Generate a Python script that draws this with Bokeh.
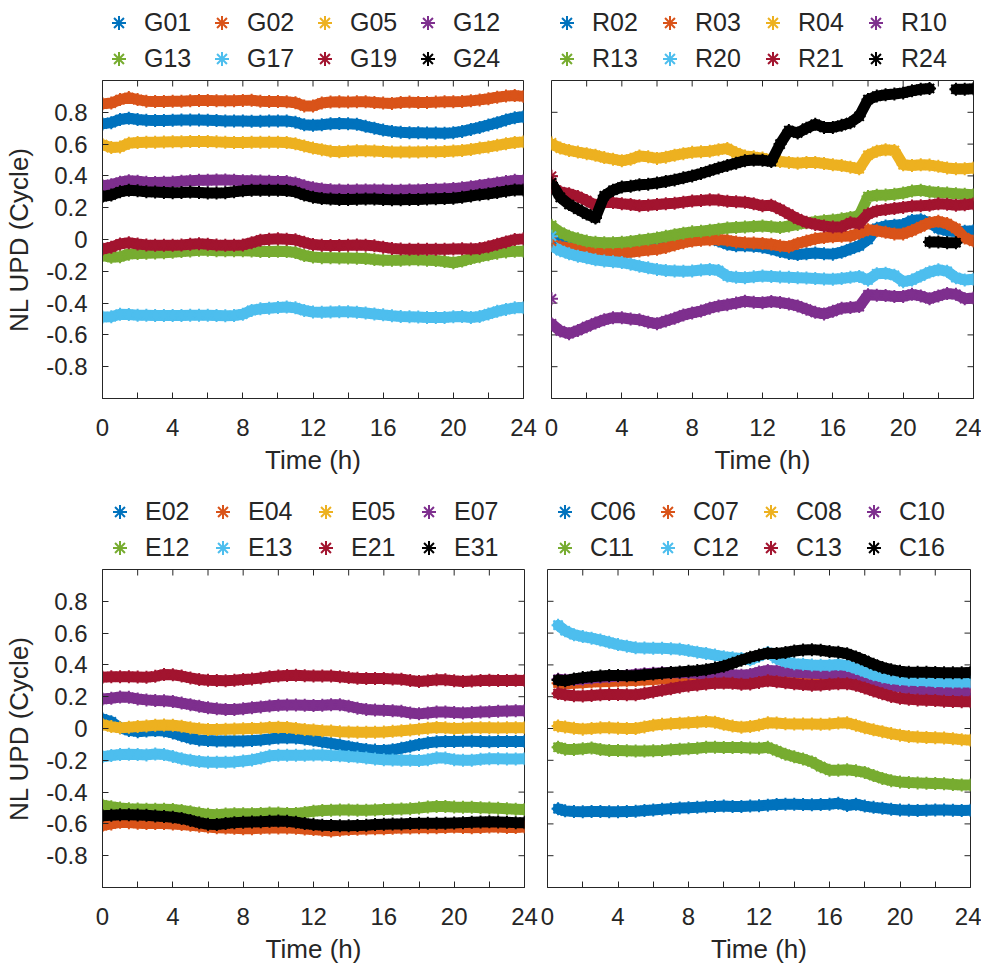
from bokeh.plotting import figure
from bokeh.models import Legend, LegendItem, FixedTicker, Range1d
from bokeh.layouts import column, row
from bokeh.embed import file_html
from bokeh.resources import INLINE

nan = float("nan")
FONT = "Liberation Sans"
TEXT = "#262626"
COLORS = ["#0072BD", "#D95319", "#EDB120", "#7E2F8E", "#77AC30", "#4DBEEE", "#A2142F", "#000000"]

X_TICKS = [0, 4, 8, 12, 16, 20, 24]
X_MINOR = [2, 6, 10, 14, 18, 22]
Y_TICKS = [-0.8, -0.6, -0.4, -0.2, 0.0, 0.2, 0.4, 0.6, 0.8]
Y_LABELS = ["-0.8", "-0.6", "-0.4", "-0.2", "0", "0.2", "0.4", "0.6", "0.8"]
X_LABEL = "Time (h)"
Y_LABEL = "NL UPD (Cycle)"

TIME = [0.0, 0.5, 1.0, 1.5, 2.0, 2.5, 3.0, 3.5, 4.0, 4.5,
        5.0, 5.5, 6.0, 6.5, 7.0, 7.5, 8.0, 8.5, 9.0, 9.5,
        10.0, 10.5, 11.0, 11.5, 12.0, 12.5, 13.0, 13.5, 14.0, 14.5,
        15.0, 15.5, 16.0, 16.5, 17.0, 17.5, 18.0, 18.5, 19.0, 19.5,
        20.0, 20.5, 21.0, 21.5, 22.0, 22.5, 23.0, 23.5, 24.0]
TIME_C = [0.6, 1.0, 1.5, 2.0, 2.5, 3.0, 3.5, 4.0, 4.5, 5.0,
          5.5, 6.0, 6.5, 7.0, 7.5, 8.0, 8.5, 9.0, 9.5, 10.0,
          10.5, 11.0, 11.5, 12.0, 12.5, 13.0, 13.5, 14.0, 14.5, 15.0,
          15.5, 16.0, 16.5, 17.0, 17.5, 18.0, 18.5, 19.0, 19.5, 20.0,
          20.5, 21.0, 21.5, 22.0, 22.5, 23.0, 23.5, 24.0]

# ---------------- G panel ----------------
G_NAMES = ["G01", "G02", "G05", "G12", "G13", "G17", "G19", "G24"]
G01 = [0.727, 0.735, 0.755, 0.763, 0.755, 0.750, 0.748, 0.748, 0.750, 0.752,
       0.752, 0.752, 0.750, 0.748, 0.746, 0.746, 0.746, 0.744, 0.744, 0.746,
       0.746, 0.745, 0.738, 0.722, 0.718, 0.722, 0.728, 0.730, 0.728, 0.725,
       0.712, 0.700, 0.688, 0.680, 0.675, 0.672, 0.672, 0.670, 0.670, 0.668,
       0.672, 0.680, 0.692, 0.705, 0.720, 0.735, 0.752, 0.766, 0.772]
G02 = [0.853, 0.858, 0.880, 0.893, 0.880, 0.870, 0.868, 0.868, 0.870, 0.870,
       0.872, 0.875, 0.875, 0.873, 0.872, 0.873, 0.875, 0.876, 0.870, 0.868,
       0.868, 0.866, 0.860, 0.840, 0.840, 0.858, 0.865, 0.866, 0.864, 0.866,
       0.866, 0.862, 0.858, 0.856, 0.862, 0.864, 0.862, 0.862, 0.864, 0.866,
       0.866, 0.868, 0.872, 0.878, 0.885, 0.895, 0.902, 0.906, 0.900]
G05 = [0.597, 0.578, 0.582, 0.605, 0.610, 0.612, 0.612, 0.613, 0.614, 0.615,
       0.616, 0.617, 0.616, 0.614, 0.612, 0.610, 0.610, 0.611, 0.612, 0.612,
       0.612, 0.610, 0.602, 0.588, 0.575, 0.565, 0.555, 0.552, 0.555, 0.558,
       0.558, 0.556, 0.554, 0.550, 0.550, 0.550, 0.551, 0.552, 0.552, 0.553,
       0.556, 0.560, 0.566, 0.575, 0.582, 0.592, 0.602, 0.610, 0.614]
G12 = [0.338, 0.345, 0.360, 0.370, 0.366, 0.360, 0.358, 0.360, 0.362, 0.366,
       0.370, 0.372, 0.372, 0.374, 0.375, 0.372, 0.370, 0.370, 0.368, 0.366,
       0.365, 0.364, 0.355, 0.338, 0.326, 0.318, 0.313, 0.311, 0.310, 0.311,
       0.312, 0.312, 0.311, 0.310, 0.310, 0.311, 0.312, 0.314, 0.316, 0.318,
       0.320, 0.325, 0.332, 0.340, 0.348, 0.356, 0.364, 0.372, 0.370]
G13 = [-0.100, -0.112, -0.108, -0.092, -0.088, -0.086, -0.085, -0.083, -0.080, -0.076,
       -0.072, -0.068, -0.068, -0.070, -0.071, -0.071, -0.070, -0.072, -0.076, -0.076,
       -0.074, -0.075, -0.082, -0.100, -0.110, -0.114, -0.115, -0.116, -0.117, -0.118,
       -0.120, -0.126, -0.130, -0.131, -0.130, -0.128, -0.128, -0.130, -0.132, -0.138,
       -0.146, -0.136, -0.120, -0.108, -0.096, -0.086, -0.078, -0.074, -0.074]
G17 = [-0.488, -0.486, -0.470, -0.472, -0.476, -0.476, -0.478, -0.478, -0.478, -0.478,
       -0.476, -0.476, -0.476, -0.478, -0.480, -0.478, -0.470, -0.446, -0.436, -0.432,
       -0.428, -0.424, -0.430, -0.446, -0.456, -0.458, -0.456, -0.454, -0.454, -0.458,
       -0.462, -0.468, -0.474, -0.480, -0.484, -0.486, -0.488, -0.490, -0.490, -0.490,
       -0.486, -0.484, -0.490, -0.484, -0.468, -0.452, -0.440, -0.430, -0.430]
G19 = [-0.060, -0.048, -0.028, -0.020, -0.028, -0.034, -0.036, -0.036, -0.036, -0.034,
       -0.030, -0.026, -0.030, -0.034, -0.036, -0.036, -0.034, -0.020, -0.004, 0.002,
       0.004, 0.002, -0.002, -0.018, -0.032, -0.036, -0.038, -0.038, -0.036, -0.034,
       -0.036, -0.040, -0.048, -0.056, -0.060, -0.062, -0.062, -0.062, -0.062, -0.062,
       -0.060, -0.058, -0.060, -0.056, -0.045, -0.030, -0.015, 0.000, 0.004]
G24 = [0.270, 0.280, 0.300, 0.310, 0.306, 0.300, 0.298, 0.296, 0.294, 0.295,
       0.298, 0.296, 0.292, 0.292, 0.294, 0.300, 0.306, 0.310, 0.310, 0.310,
       0.310, 0.308, 0.300, 0.280, 0.266, 0.258, 0.254, 0.252, 0.252, 0.253,
       0.254, 0.254, 0.252, 0.250, 0.250, 0.252, 0.252, 0.254, 0.256, 0.258,
       0.260, 0.266, 0.274, 0.282, 0.288, 0.296, 0.304, 0.312, 0.312]

# ---------------- R panel ----------------
R_NAMES = ["R02", "R03", "R04", "R10", "R13", "R20", "R21", "R24"]
R02 = [0.015, -0.005, -0.015, -0.025, -0.030, -0.035, -0.038, -0.040, -0.040, -0.035,
       -0.028, -0.020, -0.012, -0.005, 0.000, 0.005, 0.010, 0.012, 0.010, -0.010,
       -0.030, -0.040, -0.040, -0.042, -0.048, -0.060, -0.075, -0.088, -0.095, -0.090,
       -0.085, -0.090, -0.092, -0.080, -0.060, -0.040, 0.000, 0.070, 0.085, 0.090,
       0.095, 0.120, 0.125, 0.105, 0.070, 0.055, 0.050, 0.052, 0.055]
R03 = [-0.035, -0.045, -0.053, -0.060, -0.068, -0.073, -0.076, -0.080, -0.083, -0.080,
       -0.072, -0.066, -0.062, -0.050, -0.035, -0.020, -0.010, -0.005, -0.002, 0.000,
       -0.005, -0.015, -0.020, -0.022, -0.025, -0.030, -0.040, -0.045, -0.025, -0.010,
       0.005, 0.012, 0.018, 0.020, 0.022, 0.040, 0.062, 0.055, 0.045, 0.035,
       0.035, 0.055, 0.080, 0.105, 0.115, 0.100, 0.070, 0.010, -0.010]
R04 = [0.600, 0.575, 0.560, 0.550, 0.540, 0.530, 0.515, 0.505, 0.495, 0.505,
       0.525, 0.520, 0.510, 0.518, 0.530, 0.540, 0.548, 0.552, 0.555, 0.565,
       0.572, 0.545, 0.525, 0.520, 0.512, 0.500, 0.490, 0.485, 0.480, 0.485,
       0.485, 0.478, 0.470, 0.465, 0.455, 0.445, 0.530, 0.555, 0.565, 0.560,
       0.470, 0.465, 0.470, 0.468, 0.460, 0.450, 0.445, 0.445, 0.450]
R10 = [-0.530, -0.575, -0.592, -0.572, -0.548, -0.525, -0.505, -0.492, -0.492, -0.500,
       -0.505, -0.520, -0.530, -0.512, -0.495, -0.475, -0.462, -0.450, -0.432, -0.418,
       -0.410, -0.400, -0.388, -0.395, -0.398, -0.390, -0.396, -0.405, -0.418, -0.438,
       -0.458, -0.468, -0.452, -0.432, -0.428, -0.422, -0.348, -0.350, -0.352, -0.358,
       -0.358, -0.345, -0.355, -0.372, -0.355, -0.340, -0.345, -0.372, -0.368]
R13 = [0.085, 0.045, 0.020, 0.005, -0.010, -0.018, -0.020, -0.020, -0.018, -0.012,
       -0.005, 0.002, 0.010, 0.020, 0.030, 0.040, 0.048, 0.052, 0.058, 0.065,
       0.072, 0.075, 0.078, 0.082, 0.085, 0.080, 0.075, 0.085, 0.095, 0.105,
       0.112, 0.118, 0.122, 0.130, 0.138, 0.150, 0.270, 0.278, 0.280, 0.285,
       0.292, 0.305, 0.310, 0.300, 0.295, 0.292, 0.288, 0.285, 0.282]
R20 = [-0.040, -0.070, -0.090, -0.105, -0.115, -0.128, -0.135, -0.140, -0.145, -0.155,
       -0.168, -0.178, -0.188, -0.195, -0.198, -0.200, -0.198, -0.192, -0.188, -0.195,
       -0.230, -0.238, -0.240, -0.235, -0.230, -0.232, -0.236, -0.238, -0.240, -0.242,
       -0.245, -0.248, -0.250, -0.245, -0.238, -0.232, -0.255, -0.215, -0.212, -0.225,
       -0.265, -0.255, -0.230, -0.205, -0.190, -0.200, -0.240, -0.255, -0.250]
R21 = [0.330, 0.300, 0.288, 0.270, 0.245, 0.215, 0.235, 0.232, 0.225, 0.220,
       0.212, 0.215, 0.220, 0.225, 0.228, 0.235, 0.242, 0.245, 0.250, 0.248,
       0.240, 0.238, 0.235, 0.225, 0.212, 0.215, 0.190, 0.160, 0.130, 0.108,
       0.095, 0.085, 0.078, 0.080, 0.105, 0.100, 0.160, 0.180, 0.188, 0.195,
       0.202, 0.210, 0.212, 0.215, 0.225, 0.222, 0.215, 0.218, 0.225]
R24 = [0.356, 0.265, 0.220, 0.190, 0.160, 0.135, 0.275, 0.310, 0.330, 0.335,
       0.345, 0.348, 0.355, 0.365, 0.375, 0.388, 0.400, 0.415, 0.432, 0.450,
       0.465, 0.480, 0.495, 0.500, 0.498, 0.490, 0.600, 0.685, 0.670, 0.700,
       0.725, 0.705, 0.705, 0.718, 0.735, 0.775, 0.880, 0.902, 0.910, 0.915,
       0.922, 0.935, 0.945, 0.950, nan, nan, 0.945, 0.945, 0.948]
# R24 phase-wrapped stretch (shown near 0)
R24_WRAP_TIME = [21.5, 22.0, 22.5, 23.0]
R24_WRAP = [-0.015, -0.015, -0.020, -0.020]
# first (isolated) samples of each R series at t = 0
R_FIRST = [0.000, -0.010, 0.608, -0.373, 0.090, 0.021, 0.398, 0.356]

# ---------------- E panel ----------------
E_NAMES = ["E02", "E04", "E05", "E07", "E12", "E13", "E21", "E31"]
E02 = [0.060, 0.042, 0.005, -0.012, -0.020, -0.016, -0.012, -0.016, -0.028, -0.045,
       -0.062, -0.072, -0.076, -0.078, -0.078, -0.078, -0.078, -0.076, -0.072, -0.066,
       -0.060, -0.058, -0.060, -0.066, -0.074, -0.084, -0.094, -0.104, -0.114, -0.124,
       -0.132, -0.136, -0.138, -0.134, -0.124, -0.112, -0.100, -0.090, -0.084, -0.082,
       -0.082, -0.080, -0.080, -0.082, -0.083, -0.082, -0.081, -0.082, -0.082]
E04 = [-0.610, -0.600, -0.590, -0.592, -0.596, -0.598, -0.598, -0.598, -0.600, -0.604,
       -0.608, -0.614, -0.620, -0.624, -0.626, -0.628, -0.630, -0.630, -0.628, -0.626,
       -0.626, -0.626, -0.628, -0.632, -0.636, -0.640, -0.644, -0.640, -0.636, -0.634,
       -0.632, -0.630, -0.630, -0.628, -0.626, -0.626, -0.624, -0.624, -0.624, -0.622,
       -0.620, -0.622, -0.624, -0.622, -0.620, -0.620, -0.622, -0.622, -0.620]
E05 = [0.025, 0.012, 0.004, 0.008, 0.012, 0.016, 0.020, 0.022, 0.020, 0.014,
       0.005, -0.002, -0.006, -0.006, -0.005, -0.003, -0.002, 0.000, 0.002, 0.006,
       0.008, 0.006, 0.000, -0.006, -0.010, -0.014, -0.016, -0.020, -0.022, -0.024,
       -0.024, -0.024, -0.022, -0.018, -0.014, -0.010, -0.004, 0.002, 0.006, 0.004,
       0.000, 0.002, 0.004, 0.005, 0.004, 0.003, 0.004, 0.005, 0.004]
E07 = [0.185, 0.190, 0.198, 0.196, 0.186, 0.180, 0.176, 0.174, 0.170, 0.160,
       0.150, 0.140, 0.130, 0.124, 0.120, 0.120, 0.124, 0.130, 0.136, 0.142,
       0.146, 0.148, 0.148, 0.146, 0.144, 0.146, 0.150, 0.150, 0.140, 0.128,
       0.120, 0.116, 0.114, 0.112, 0.108, 0.098, 0.092, 0.098, 0.104, 0.104,
       0.100, 0.098, 0.100, 0.104, 0.106, 0.108, 0.110, 0.112, 0.112]
E12 = [-0.482, -0.492, -0.500, -0.504, -0.506, -0.508, -0.508, -0.508, -0.510, -0.516,
       -0.524, -0.532, -0.540, -0.542, -0.538, -0.536, -0.536, -0.536, -0.534, -0.532,
       -0.532, -0.534, -0.534, -0.528, -0.520, -0.516, -0.514, -0.512, -0.512, -0.514,
       -0.514, -0.512, -0.510, -0.508, -0.506, -0.504, -0.500, -0.494, -0.490, -0.490,
       -0.494, -0.496, -0.496, -0.498, -0.500, -0.502, -0.505, -0.508, -0.510]
E13 = [-0.178, -0.170, -0.164, -0.162, -0.164, -0.166, -0.160, -0.164, -0.176, -0.190,
       -0.200, -0.208, -0.212, -0.212, -0.212, -0.210, -0.204, -0.198, -0.186, -0.172,
       -0.168, -0.168, -0.168, -0.168, -0.166, -0.166, -0.170, -0.172, -0.176, -0.180,
       -0.186, -0.192, -0.196, -0.198, -0.200, -0.200, -0.202, -0.196, -0.184, -0.186,
       -0.196, -0.200, -0.200, -0.194, -0.190, -0.190, -0.192, -0.192, -0.190]
E21 = [0.322, 0.325, 0.326, 0.326, 0.324, 0.322, 0.328, 0.340, 0.338, 0.330,
       0.318, 0.308, 0.303, 0.302, 0.300, 0.303, 0.308, 0.312, 0.318, 0.325,
       0.330, 0.334, 0.335, 0.332, 0.330, 0.330, 0.330, 0.326, 0.320, 0.316,
       0.314, 0.314, 0.314, 0.312, 0.310, 0.302, 0.296, 0.300, 0.306, 0.306,
       0.300, 0.296, 0.298, 0.302, 0.304, 0.302, 0.302, 0.303, 0.302]
E31 = [-0.548, -0.546, -0.542, -0.542, -0.544, -0.546, -0.550, -0.554, -0.558, -0.566,
       -0.578, -0.592, -0.602, -0.604, -0.598, -0.592, -0.590, -0.588, -0.586, -0.584,
       -0.582, -0.584, -0.590, -0.598, -0.604, -0.608, -0.610, -0.612, -0.612, -0.610,
       -0.608, -0.604, -0.602, -0.600, -0.600, -0.598, -0.596, -0.596, -0.596, -0.596,
       -0.594, -0.592, -0.590, -0.588, -0.586, -0.588, -0.590, -0.592, -0.592]

# ---------------- C panel ----------------
C_NAMES = ["C06", "C07", "C08", "C10", "C11", "C12", "C13", "C16"]
C06 = [-0.505, -0.518, -0.522, -0.524, -0.522, -0.522, -0.524, -0.524, -0.522, -0.520,
       -0.516, -0.512, -0.508, -0.504, -0.500, -0.498, -0.496, -0.492, -0.490, -0.488,
       -0.490, -0.490, -0.488, -0.486, -0.482, -0.478, -0.476, -0.476, -0.478, -0.480,
       -0.478, -0.476, -0.470, -0.484, -0.476, -0.488, -0.496, -0.502, -0.508, -0.512,
       -0.514, -0.515, -0.514, -0.512, -0.513, -0.514, -0.515, -0.514]
C07 = [0.285, 0.282, 0.285, 0.288, 0.292, 0.294, 0.296, 0.298, 0.300, 0.302,
       0.305, 0.308, 0.312, 0.315, 0.318, 0.320, 0.322, 0.325, 0.325, 0.325,
       0.325, 0.325, 0.325, 0.328, 0.330, 0.328, 0.325, 0.322, 0.320, 0.318,
       0.318, 0.318, 0.318, 0.316, 0.310, 0.300, 0.288, 0.278, 0.270, 0.266,
       0.264, 0.264, 0.264, 0.262, 0.262, 0.262, 0.262, 0.262]
C08 = [0.015, 0.010, 0.002, -0.004, 0.000, 0.004, 0.004, 0.002, 0.000, 0.000,
       0.010, 0.020, 0.026, 0.030, 0.033, 0.036, 0.040, 0.044, 0.040, 0.026,
       0.015, 0.008, 0.012, 0.022, 0.036, 0.034, 0.030, 0.028, 0.028, 0.028,
       0.026, 0.028, 0.034, 0.036, 0.020, 0.005, -0.008, -0.020, -0.032, -0.042,
       -0.050, -0.054, -0.056, -0.058, -0.060, -0.064, -0.070, -0.074]
C10 = [0.310, 0.305, 0.308, 0.312, 0.318, 0.322, 0.326, 0.330, 0.334, 0.340,
       0.345, 0.348, 0.350, 0.350, 0.350, 0.350, 0.348, 0.345, 0.342, 0.340,
       0.338, 0.335, 0.340, 0.355, 0.365, 0.362, 0.358, 0.354, 0.350, 0.348,
       0.346, 0.346, 0.346, 0.344, 0.336, 0.322, 0.300, 0.280, 0.268, 0.260,
       0.250, 0.245, 0.240, 0.236, 0.234, 0.232, 0.232, 0.232]
C11 = [-0.118, -0.130, -0.132, -0.128, -0.122, -0.132, -0.138, -0.138, -0.140, -0.142,
       -0.142, -0.140, -0.138, -0.134, -0.130, -0.128, -0.124, -0.118, -0.118, -0.120,
       -0.120, -0.120, -0.122, -0.124, -0.118, -0.140, -0.162, -0.178, -0.192, -0.210,
       -0.240, -0.262, -0.262, -0.260, -0.266, -0.276, -0.296, -0.314, -0.328, -0.336,
       -0.340, -0.342, -0.344, -0.346, -0.348, -0.352, -0.356, -0.356]
C12 = [0.650, 0.615, 0.590, 0.578, 0.568, 0.556, 0.542, 0.528, 0.518, 0.508,
       0.506, 0.504, 0.504, 0.502, 0.498, 0.490, 0.480, 0.472, 0.462, 0.452,
       0.445, 0.440, 0.432, 0.455, 0.478, 0.440, 0.420, 0.408, 0.404, 0.400,
       0.398, 0.398, 0.402, 0.396, 0.378, 0.358, 0.338, 0.324, 0.314, 0.308,
       0.304, 0.302, 0.300, 0.296, 0.294, 0.292, 0.292, 0.292]
C13 = [0.220, 0.212, 0.206, 0.205, 0.208, 0.212, 0.214, 0.214, 0.212, 0.212,
       0.220, 0.230, 0.240, 0.250, 0.260, 0.268, 0.274, 0.280, 0.284, 0.286,
       0.284, 0.278, 0.280, 0.290, 0.300, 0.294, 0.288, 0.282, 0.276, 0.272,
       0.274, 0.278, 0.282, 0.282, 0.272, 0.255, 0.236, 0.218, 0.202, 0.190,
       0.184, 0.180, 0.178, 0.176, 0.172, 0.170, 0.168, 0.168]
C16 = [0.305, 0.300, 0.312, 0.320, 0.326, 0.330, 0.334, 0.334, 0.332, 0.332,
       0.338, 0.342, 0.348, 0.352, 0.356, 0.360, 0.364, 0.370, 0.380, 0.392,
       0.410, 0.430, 0.448, 0.462, 0.474, 0.472, 0.478, 0.488, 0.494, 0.496,
       0.492, 0.484, 0.480, 0.470, 0.450, 0.428, 0.404, 0.384, 0.370, 0.360,
       0.354, 0.354, 0.354, 0.352, 0.350, 0.350, 0.350, 0.352]

LINE_W = 11
MARK_S = 13
FRAME_H = 318
TICK_PX = 6


def style_axis(ax, ticker, standoff, overrides=None):
    ax.ticker = ticker
    ax.axis_line_color = TEXT
    ax.axis_line_width = 1
    ax.major_tick_line_color = TEXT
    ax.minor_tick_line_color = TEXT
    ax.major_tick_in = TICK_PX
    ax.major_tick_out = 0
    ax.minor_tick_in = TICK_PX
    ax.minor_tick_out = 0
    ax.major_label_text_font = FONT
    ax.major_label_text_color = TEXT
    ax.major_label_text_font_size = "24px"
    ax.major_label_standoff = standoff
    if overrides:
        ax.major_label_overrides = overrides


def panel(time, series, fw, left, right, top, bottom, show_y):
    p = figure(frame_width=fw, frame_height=FRAME_H, title=None,
               min_border_left=left, min_border_right=right,
               min_border_top=top, min_border_bottom=bottom,
               x_range=Range1d(0, 24), y_range=Range1d(-1, 1),
               y_axis_location="left" if show_y else None,
               toolbar_location=None, output_backend="svg")
    p.grid.visible = False
    p.background_fill_color = "white"
    p.border_fill_color = "white"
    p.outline_line_color = TEXT
    p.outline_line_width = 1

    xb = p.xaxis[0]
    style_axis(xb, FixedTicker(ticks=X_TICKS, minor_ticks=X_MINOR), 20)
    xb.axis_label = X_LABEL
    xb.axis_label_text_font = FONT
    xb.axis_label_text_font_size = "26px"
    xb.axis_label_text_font_style = "normal"
    xb.axis_label_text_color = TEXT
    xb.axis_label_standoff = 6
    if show_y:
        yl = p.yaxis[0]
        style_axis(yl, FixedTicker(ticks=Y_TICKS, minor_ticks=[]), 15,
                   overrides={v: s for v, s in zip(Y_TICKS, Y_LABELS)})
        yl.axis_label = Y_LABEL
        yl.axis_label_text_font = FONT
        yl.axis_label_text_font_size = "26px"
        yl.axis_label_text_font_style = "normal"
        yl.axis_label_text_color = TEXT
        yl.axis_label_standoff = 9

    # box ticks on the other sides (inward), drawn through the plot's scales
    dx = TICK_PX * 24.0 / fw
    dy = TICK_PX * 2.0 / FRAME_H
    xt_all = sorted(X_TICKS + X_MINOR)
    p.segment(x0=xt_all, y0=[1.0] * len(xt_all), x1=xt_all,
              y1=[1.0 - dy] * len(xt_all), line_color=TEXT, line_width=1)
    p.segment(x0=[24.0] * len(Y_TICKS), y0=Y_TICKS, x1=[24.0 - dx] * len(Y_TICKS),
              y1=Y_TICKS, line_color=TEXT, line_width=1)
    if not show_y:
        p.segment(x0=[0.0] * len(Y_TICKS), y0=Y_TICKS, x1=[dx] * len(Y_TICKS),
                  y1=Y_TICKS, line_color=TEXT, line_width=1)

    for vals, col in zip(series, COLORS):
        p.line(time, vals, line_width=LINE_W, color=col,
               line_cap="round", line_join="round")
        p.scatter(time, vals, marker="asterisk", size=MARK_S,
                  line_width=2, color=col)
    return p


def legend_fig(width, height, time, names, series, vx):
    # legend strip above a panel; its renderers hold the same series but the
    # strip's view range lies outside the data, so only the legend shows
    lf = figure(width=width, height=height, title=None, min_border=0,
                x_axis_location=None, y_axis_location=None,
                x_range=Range1d(-30, -29), y_range=Range1d(-30, -29),
                toolbar_location=None, output_backend="svg")
    lf.grid.visible = False
    lf.outline_line_color = None
    lf.background_fill_color = "white"
    lf.border_fill_color = "white"
    items = []
    for name, vals, col in zip(names, series, COLORS):
        r = lf.scatter(time, vals, marker="asterisk", size=MARK_S,
                       line_width=2, color=col)
        items.append(LegendItem(label=name, renderers=[r]))
    leg = Legend(items=items, ncols=4, orientation="horizontal",
                 location=(vx, 2),
                 glyph_width=35, glyph_height=35, label_standoff=8,
                 label_width=59, label_height=35, spacing=1,
                 padding=0, margin=0,
                 border_line_alpha=0, background_fill_alpha=0,
                 label_text_font=FONT, label_text_font_size="25px",
                 label_text_color=TEXT)
    lf.add_layout(leg)
    return lf


G_SERIES = [G01, G02, G05, G12, G13, G17, G19, G24]
R_SERIES = [R02, R03, R04, R10, R13, R20, R21, R24]
E_SERIES = [E02, E04, E05, E07, E12, E13, E21, E31]
C_SERIES = [C06, C07, C08, C10, C11, C12, C13, C16]

p1 = panel(TIME, G_SERIES, fw=421, left=102, right=16, top=2, bottom=99, show_y=True)
p2 = panel(TIME, R_SERIES, fw=422, left=12, right=8, top=1, bottom=100, show_y=False)
# R24 wrapped stretch and the isolated first samples
p2.line(R24_WRAP_TIME, R24_WRAP, line_width=LINE_W, color=COLORS[7],
        line_cap="round", line_join="round")
p2.scatter(R24_WRAP_TIME, R24_WRAP, marker="asterisk", size=MARK_S,
           line_width=2, color=COLORS[7])
p2.scatter([TIME[0]] * len(R_FIRST), R_FIRST, marker="asterisk", size=MARK_S,
           line_width=2, color=COLORS)
p3 = panel(TIME, E_SERIES, fw=422, left=102, right=15, top=2, bottom=80, show_y=True)
p4 = panel(TIME_C, C_SERIES, fw=423, left=8, right=11, top=2, bottom=80, show_y=False)

l1 = legend_fig(539, 78, TIME, G_NAMES, G_SERIES, 101)
l2 = legend_fig(442, 78, TIME, R_NAMES, R_SERIES, 10)
l3 = legend_fig(539, 70, TIME, E_NAMES, E_SERIES, 102)
l4 = legend_fig(442, 70, TIME_C, C_NAMES, C_SERIES, 8)

layout = column(row(l1, l2), row(p1, p2), row(l3, l4), row(p3, p4))
open("out.html", "w").write(file_html(layout, INLINE))
